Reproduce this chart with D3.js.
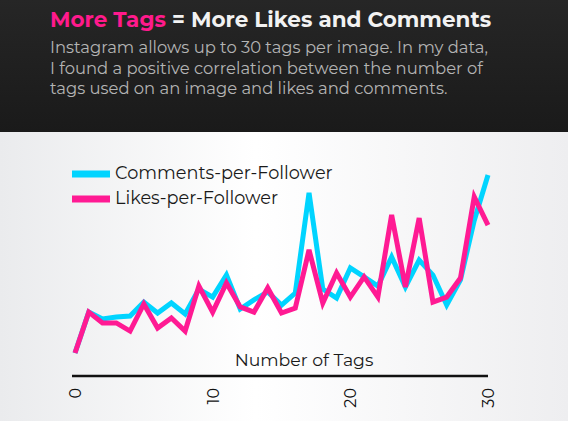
<!DOCTYPE html>
<html>
<head>
<meta charset="utf-8">
<script src="https://cdn.jsdelivr.net/npm/d3@7"></script>
<style>
  html, body { margin: 0; padding: 0; background: #1b1b1b; }
  svg { display: block; }
</style>
</head>
<body>
<svg id="chart" width="568" height="421"></svg>
<script>
// tags used on an image, 0..30
var tags = d3.range(0, 31);
// relative engagement (arbitrary units)
var commentsPerFollower = [0.53, 2.68, 2.32, 2.42, 2.47, 3.21, 2.63, 3.16, 2.58, 3.89,
    3.47, 4.63, 2.84, 3.32, 3.74, 3.05, 3.68, 8.95, 3.89, 3.42,
    5.0, 4.53, 4.05, 5.58, 4.0, 5.42, 4.63, 3.05, 4.37, 7.5, 9.89];
var likesPerFollower = [0.53, 2.68, 2.11, 2.11, 1.68, 3.11, 1.84, 2.37, 1.68, 4.05,
    2.68, 4.21, 2.95, 2.68, 3.95, 2.63, 2.89, 5.95, 3.16, 4.74,
    3.47, 4.53, 3.47, 7.79, 4.0, 7.63, 3.21, 3.47, 4.47, 8.74, 7.26];
var tickValues = [0, 10, 20, 30];
var subtitleLines = [
    'Instagram allows up to 30 tags per image. In my data,',
    'I found a positive correlation between the number of',
    'tags used on an image and likes and comments.'
];
var seriesNames = ['Comments-per-Follower', 'Likes-per-Follower'];

var W = 568, H = 421;
var svg = d3.select('#chart');
var font = 'Montserrat, "Open Sans", "Noto Sans", sans-serif';
var cyan = '#00d4ff', pink = '#ff1a93';

var defs = svg.append('defs');
var topGrad = defs.append('linearGradient').attr('id', 'topbg')
    .attr('x1', 0).attr('y1', 0).attr('x2', 0).attr('y2', 1);
topGrad.append('stop').attr('offset', '0%').attr('stop-color', '#262626');
topGrad.append('stop').attr('offset', '100%').attr('stop-color', '#1a1a1a');

var botGrad = defs.append('linearGradient').attr('id', 'botbg')
    .attr('x1', 0).attr('y1', 0).attr('x2', 1).attr('y2', 0);
botGrad.append('stop').attr('offset', '0%').attr('stop-color', '#eaebed');
botGrad.append('stop').attr('offset', '45%').attr('stop-color', '#ffffff');
botGrad.append('stop').attr('offset', '100%').attr('stop-color', '#eeeef0');

svg.append('rect').attr('width', W).attr('height', 132).attr('fill', 'url(#topbg)');
svg.append('rect').attr('y', 132).attr('width', W).attr('height', H - 132).attr('fill', 'url(#botbg)');

// heading
var title = svg.append('text')
    .attr('x', 50).attr('y', 27)
    .attr('font-family', font).attr('font-weight', 'bold').attr('font-size', 21.5);
title.append('tspan').attr('fill', '#ff1a8c').text('More Tags');
title.append('tspan').attr('fill', '#f2f2f2').text(' = More Likes and Comments');

svg.append('g').selectAll('text')
    .data(subtitleLines)
    .enter().append('text')
    .attr('x', 50)
    .attr('y', function(d, i){ return 53 + i * 20.5; })
    .attr('fill', '#b4b4b4')
    .attr('font-family', font).attr('font-size', 16.4)
    .text(function(d){ return d; });

// scales
var x = d3.scaleLinear().domain([0, 30]).range([75, 488]);
var y = d3.scaleLinear().domain([0, 10]).range([363, 173]);

var line = d3.line()
    .x(function(d, i){ return x(tags[i]); })
    .y(function(d){ return y(d); });

svg.append('path')
    .datum(commentsPerFollower)
    .attr('d', line)
    .attr('fill', 'none')
    .attr('stroke', cyan)
    .attr('stroke-width', 5)
    .attr('stroke-linejoin', 'miter');

svg.append('path')
    .datum(likesPerFollower)
    .attr('d', line)
    .attr('fill', 'none')
    .attr('stroke', pink)
    .attr('stroke-width', 5)
    .attr('stroke-linejoin', 'miter');

// legend
var legend = svg.append('g').selectAll('g.legend-item')
    .data(seriesNames)
    .enter().append('g')
    .attr('class', 'legend-item')
    .attr('transform', function(d, i){ return 'translate(72,' + (174 + i * 25) + ')'; });
legend.append('rect')
    .attr('x', 0).attr('y', -3.5).attr('width', 38).attr('height', 7)
    .attr('fill', function(d, i){ return i === 0 ? cyan : pink; });
legend.append('text')
    .attr('x', 43).attr('y', 5)
    .attr('fill', '#1a1a1a')
    .attr('font-family', font).attr('font-size', 17.7)
    .text(function(d){ return d; });

// x axis
var axis = svg.append('g')
    .attr('transform', 'translate(0,376)')
    .call(d3.axisBottom(x).tickValues(tickValues).tickSize(0).tickPadding(0));
axis.select('.domain')
    .attr('stroke', '#111').attr('stroke-width', 2.5)
    .attr('d', 'M' + (x(0) - 3) + ',0H' + x(30));
axis.selectAll('.tick text')
    .attr('font-family', font).attr('font-size', 16).attr('fill', '#111')
    .attr('text-anchor', 'end')
    .attr('dy', '0.35em')
    .attr('transform', 'translate(0,12) rotate(-90)')
    .attr('y', 0).attr('x', 0);

svg.append('text')
    .attr('x', 304).attr('y', 366)
    .attr('text-anchor', 'middle')
    .attr('fill', '#1a1a1a')
    .attr('font-family', font).attr('font-size', 17.3)
    .text('Number of Tags');
</script>
</body>
</html>
